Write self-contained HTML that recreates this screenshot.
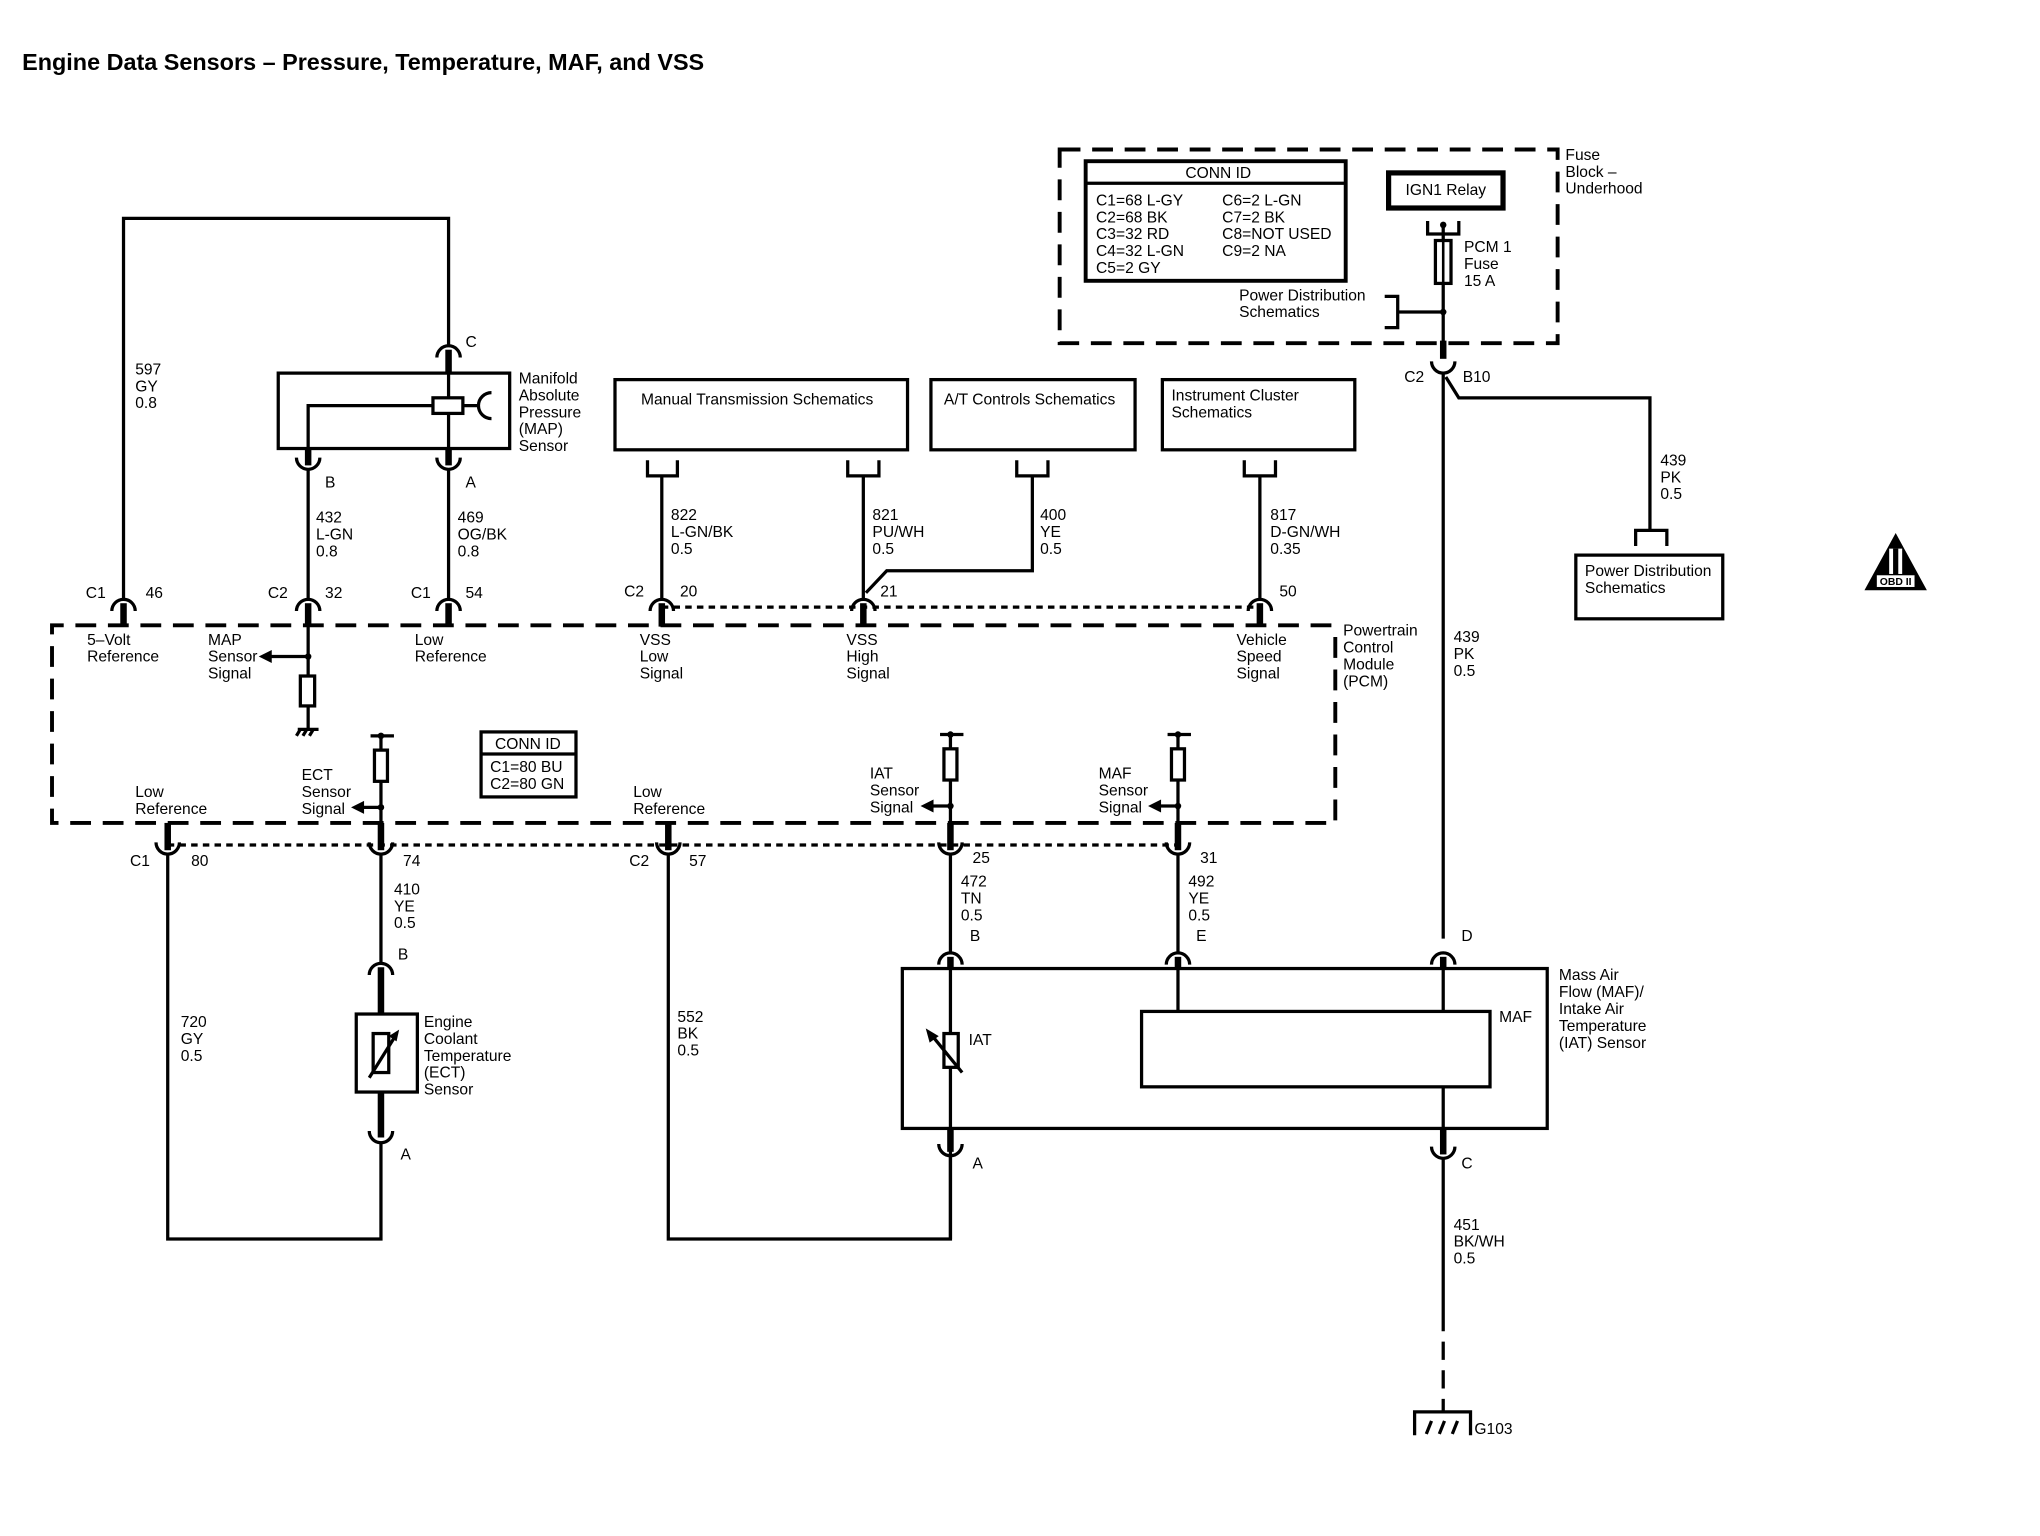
<!DOCTYPE html>
<html><head><meta charset="utf-8"><style>
html,body{margin:0;padding:0;background:#fff;}
svg{display:block}
text{font-family:"Liberation Sans",sans-serif;font-size:12px;fill:#000}
.t{font-size:18px;font-weight:bold}
.w{stroke:#000;stroke-width:2.5;fill:none}
.s{stroke:#000;stroke-width:5;fill:none}
.b{stroke:#000;stroke-width:2.5;fill:none}
.d{stroke:#000;stroke-width:3;fill:none;stroke-dasharray:16 9}
.dot{stroke:#000;stroke-width:2.5;fill:none;stroke-dasharray:5 4}
</style></head><body>
<svg width="2040" height="1536" viewBox="0 0 1569 1181.5" preserveAspectRatio="none" xmlns="http://www.w3.org/2000/svg">
<rect x="0" y="0" width="1569" height="1182" fill="#fff"/>
<text class="t" x="17" y="54">Engine Data Sensors – Pressure, Temperature, MAF, and VSS</text>

<!-- Fuse block -->
<rect x="815" y="115" width="383" height="149" class="d"/>
<text x="1204" y="123">Fuse</text><text x="1204" y="136">Block –</text><text x="1204" y="149">Underhood</text>
<rect x="835" y="124" width="200" height="92" fill="none" stroke="#000" stroke-width="3"/>
<line x1="835" y1="141" x2="1035" y2="141" stroke="#000" stroke-width="2.5"/>
<text x="937" y="137" text-anchor="middle">CONN ID</text>
<text x="843" y="158">C1=68 L-GY</text><text x="843" y="171">C2=68 BK</text><text x="843" y="184">C3=32 RD</text><text x="843" y="197">C4=32 L-GN</text><text x="843" y="210">C5=2 GY</text>
<text x="940" y="158">C6=2 L-GN</text><text x="940" y="171">C7=2 BK</text><text x="940" y="184">C8=NOT USED</text><text x="940" y="197">C9=2 NA</text>
<rect x="1068" y="133" width="88" height="27" fill="none" stroke="#000" stroke-width="4"/>
<text x="1112" y="150" text-anchor="middle">IGN1 Relay</text>
<path class="w" d="M1098 170 V180 H1122 V170"/>
<circle cx="1110" cy="173" r="2.5"/>
<line class="w" x1="1110" y1="173" x2="1110" y2="185"/>
<rect x="1104" y="185" width="12" height="33" fill="none" stroke="#000" stroke-width="2.5"/>
<line x1="1110" y1="185" x2="1110" y2="218" stroke="#000" stroke-width="2"/>
<text x="1126" y="194">PCM 1</text><text x="1126" y="207">Fuse</text><text x="1126" y="220">15 A</text>
<line class="w" x1="1110" y1="218" x2="1110" y2="270"/>
<circle cx="1110" cy="240" r="2.5"/>
<path class="w" d="M1110 240 H1075 M1065 228 H1075 V252 H1065"/>
<text x="953" y="231">Power Distribution</text><text x="953" y="244">Schematics</text>
<!-- C2 B10 -->
<line class="s" x1="1110" y1="262" x2="1110" y2="276"/>
<path class="b" d="M1101 278 A9 9 0 0 0 1119 278"/>
<text x="1080" y="294">C2</text><text x="1125" y="294">B10</text>
<line class="w" x1="1110" y1="287" x2="1110" y2="722"/>
<path class="w" d="M1112 290 L1122 306 H1269 V408"/>
<path class="b" d="M1258 420 V408 H1282 V420"/>
<text x="1277" y="358">439</text><text x="1277" y="371">PK</text><text x="1277" y="384">0.5</text>
<rect x="1212" y="427" width="113" height="49" fill="none" stroke="#000" stroke-width="2.5"/>
<text x="1219" y="443">Power Distribution</text><text x="1219" y="456">Schematics</text>
<text x="1118" y="494">439</text><text x="1118" y="507">PK</text><text x="1118" y="520">0.5</text>
<!-- OBD -->
<polygon points="1458,410 1434,454 1482,454" fill="#000"/>
<rect x="1453" y="422" width="10" height="20" fill="#fff"/>
<rect x="1456" y="422" width="4" height="20" fill="#000"/>
<rect x="1443" y="442" width="30" height="10" fill="#fff" stroke="#000"/>
<text x="1458" y="450" text-anchor="middle" style="font-size:8px;font-weight:bold">OBD II</text>

<!-- MAP sensor -->
<path class="w" d="M95 462 V168 H345 V266"/>
<text x="104" y="288">597</text><text x="104" y="301">GY</text><text x="104" y="314">0.8</text>
<path class="b" d="M336 275 A9 9 0 0 1 354 275"/>
<line class="s" x1="345" y1="269" x2="345" y2="287"/>
<text x="358" y="267">C</text>
<rect x="214" y="287" width="178" height="58" fill="none" stroke="#000" stroke-width="2.5"/>
<line class="w" x1="345" y1="287" x2="345" y2="345"/>
<path class="w" d="M237 345 V312 H333"/>
<rect x="333" y="306" width="23" height="12" fill="#fff" stroke="#000" stroke-width="2.5"/>
<line class="w" x1="356" y1="312" x2="369" y2="312"/>
<path class="b" d="M378 302 A10 10 0 0 0 378 322"/>
<text x="399" y="295">Manifold</text><text x="399" y="308">Absolute</text><text x="399" y="321">Pressure</text><text x="399" y="334">(MAP)</text><text x="399" y="347">Sensor</text>
<line class="s" x1="237" y1="345" x2="237" y2="358"/>
<line class="s" x1="345" y1="345" x2="345" y2="358"/>
<path class="b" d="M228 352 A9 9 0 0 0 246 352"/>
<path class="b" d="M336 352 A9 9 0 0 0 354 352"/>
<text x="250" y="375">B</text><text x="358" y="375">A</text>
<line class="w" x1="237" y1="361" x2="237" y2="462"/>
<line class="w" x1="345" y1="361" x2="345" y2="462"/>
<text x="243" y="402">432</text><text x="243" y="415">L-GN</text><text x="243" y="428">0.8</text>
<text x="352" y="402">469</text><text x="352" y="415">OG/BK</text><text x="352" y="428">0.8</text>

<!-- Schematic boxes -->
<rect x="473" y="292" width="225" height="54" fill="none" stroke="#000" stroke-width="2.5"/>
<text x="493" y="311">Manual Transmission Schematics</text>
<rect x="716" y="292" width="157" height="54" fill="none" stroke="#000" stroke-width="2.5"/>
<text x="726" y="311">A/T Controls Schematics</text>
<rect x="894" y="292" width="148" height="54" fill="none" stroke="#000" stroke-width="2.5"/>
<text x="901" y="308">Instrument Cluster</text><text x="901" y="321">Schematics</text>
<path class="w" d="M498 354 V366 H521 V354 M509 366 V462"/>
<path class="w" d="M652 354 V366 H676 V354 M664 366 V462"/>
<path class="w" d="M782 354 V366 H806 V354 M794 366 V439 H682 L666 456"/>
<path class="w" d="M957 354 V366 H981 V354 M969 366 V462"/>
<text x="516" y="400">822</text><text x="516" y="413">L-GN/BK</text><text x="516" y="426">0.5</text>
<text x="671" y="400">821</text><text x="671" y="413">PU/WH</text><text x="671" y="426">0.5</text>
<text x="800" y="400">400</text><text x="800" y="413">YE</text><text x="800" y="426">0.5</text>
<text x="977" y="400">817</text><text x="977" y="413">D-GN/WH</text><text x="977" y="426">0.35</text>

<!-- PCM top connectors -->
<line class="dot" x1="509" y1="467" x2="969" y2="467"/>
<g>
<path class="b" d="M86 470 A9 9 0 0 1 104 470"/><line class="s" x1="95" y1="464" x2="95" y2="482"/>
<path class="b" d="M228 470 A9 9 0 0 1 246 470"/><line class="s" x1="237" y1="464" x2="237" y2="482"/>
<path class="b" d="M336 470 A9 9 0 0 1 354 470"/><line class="s" x1="345" y1="464" x2="345" y2="482"/>
<path class="b" d="M500 470 A9 9 0 0 1 518 470"/><line class="s" x1="509" y1="464" x2="509" y2="482"/>
<path class="b" d="M655 470 A9 9 0 0 1 673 470"/><line class="s" x1="664" y1="464" x2="664" y2="482"/>
<path class="b" d="M960 470 A9 9 0 0 1 978 470"/><line class="s" x1="969" y1="464" x2="969" y2="482"/>
</g>
<text x="66" y="460">C1</text><text x="112" y="460">46</text>
<text x="206" y="460">C2</text><text x="250" y="460">32</text>
<text x="316" y="460">C1</text><text x="358" y="460">54</text>
<text x="480" y="459">C2</text><text x="523" y="459">20</text>
<text x="677" y="459">21</text><text x="984" y="459">50</text>

<!-- PCM box -->
<path class="d" d="M1027 490 V633 H40 V481 H1027"/>
<text x="1033" y="489">Powertrain</text><text x="1033" y="502">Control</text><text x="1033" y="515">Module</text><text x="1033" y="528">(PCM)</text>
<text x="67" y="496">5–Volt</text><text x="67" y="509">Reference</text>
<text x="160" y="496">MAP</text><text x="160" y="509">Sensor</text><text x="160" y="522">Signal</text>
<text x="319" y="496">Low</text><text x="319" y="509">Reference</text>
<text x="492" y="496">VSS</text><text x="492" y="509">Low</text><text x="492" y="522">Signal</text>
<text x="651" y="496">VSS</text><text x="651" y="509">High</text><text x="651" y="522">Signal</text>
<text x="951" y="496">Vehicle</text><text x="951" y="509">Speed</text><text x="951" y="522">Signal</text>
<!-- MAP internal -->
<line class="w" x1="237" y1="482" x2="237" y2="520"/>
<circle cx="237" cy="505" r="2.5"/>
<line class="w" x1="237" y1="505" x2="208" y2="505"/>
<polygon points="199,505 209,500 209,510"/>
<rect x="231" y="520" width="11" height="23" fill="#fff" stroke="#000" stroke-width="2.5"/>
<line class="w" x1="237" y1="543" x2="237" y2="560"/>
<path class="w" d="M229 561 H245 M231 561 L228 566 M236 561 L233 566 M241 561 L238 566" stroke-width="2"/>
<!-- CONN ID small -->
<rect x="370" y="563" width="73" height="50" fill="none" stroke="#000" stroke-width="2.5"/>
<line x1="370" y1="580" x2="443" y2="580" stroke="#000" stroke-width="2.5"/>
<text x="406" y="576" text-anchor="middle">CONN ID</text>
<text x="377" y="594">C1=80 BU</text><text x="377" y="607">C2=80 GN</text>
<!-- internal pull resistors -->
<g>
<path class="w" d="M285 566 H303 M293 566 V577 M293 601 V633"/><circle cx="293" cy="566" r="2.5"/>
<rect x="288" y="577" width="10" height="24" fill="#fff" stroke="#000" stroke-width="2.5"/>
<circle cx="293" cy="621" r="2.5"/><line class="w" x1="293" y1="621" x2="279" y2="621"/><polygon points="270,621 280,616 280,626"/>
<path class="w" d="M723 565 H741 M731 565 V576 M731 600 V633"/><circle cx="731" cy="565" r="2.5"/>
<rect x="726" y="576" width="10" height="24" fill="#fff" stroke="#000" stroke-width="2.5"/>
<circle cx="731" cy="620" r="2.5"/><line class="w" x1="731" y1="620" x2="717" y2="620"/><polygon points="708,620 718,615 718,625"/>
<path class="w" d="M898 565 H916 M906 565 V576 M906 600 V633"/><circle cx="906" cy="565" r="2.5"/>
<rect x="901" y="576" width="10" height="24" fill="#fff" stroke="#000" stroke-width="2.5"/>
<circle cx="906" cy="620" r="2.5"/><line class="w" x1="906" y1="620" x2="892" y2="620"/><polygon points="883,620 893,615 893,625"/>
</g>
<text x="104" y="613">Low</text><text x="104" y="626">Reference</text>
<text x="232" y="600">ECT</text><text x="232" y="613">Sensor</text><text x="232" y="626">Signal</text>
<text x="487" y="613">Low</text><text x="487" y="626">Reference</text>
<text x="669" y="599">IAT</text><text x="669" y="612">Sensor</text><text x="669" y="625">Signal</text>
<text x="845" y="599">MAF</text><text x="845" y="612">Sensor</text><text x="845" y="625">Signal</text>

<!-- PCM bottom connectors -->
<line class="dot" x1="129" y1="650" x2="906" y2="650"/>
<g>
<line class="s" x1="129" y1="633" x2="129" y2="654"/><path class="b" d="M120 648 A9 9 0 0 0 138 648"/>
<line class="s" x1="293" y1="633" x2="293" y2="654"/><path class="b" d="M284 648 A9 9 0 0 0 302 648"/>
<line class="s" x1="514" y1="633" x2="514" y2="654"/><path class="b" d="M505 648 A9 9 0 0 0 523 648"/>
<line class="s" x1="731" y1="633" x2="731" y2="654"/><path class="b" d="M722 648 A9 9 0 0 0 740 648"/>
<line class="s" x1="906" y1="633" x2="906" y2="654"/><path class="b" d="M897 648 A9 9 0 0 0 915 648"/>
</g>
<text x="100" y="666">C1</text><text x="147" y="666">80</text>
<text x="310" y="666">74</text>
<text x="484" y="666">C2</text><text x="530" y="666">57</text>
<text x="748" y="664">25</text><text x="923" y="664">31</text>

<!-- bottom wires -->
<path class="w" d="M129 657 V953 H293 V878"/>
<text x="139" y="790">720</text><text x="139" y="803">GY</text><text x="139" y="816">0.5</text>
<line class="w" x1="293" y1="657" x2="293" y2="742"/>
<text x="303" y="688">410</text><text x="303" y="701">YE</text><text x="303" y="714">0.5</text>
<path class="b" d="M284 750 A9 9 0 0 1 302 750"/><line class="s" x1="293" y1="744" x2="293" y2="780"/>
<text x="306" y="738">B</text>
<rect x="274" y="780" width="47" height="60" fill="none" stroke="#000" stroke-width="2.5"/>
<rect x="287" y="795" width="12" height="30" fill="none" stroke="#000" stroke-width="2.5"/>
<line class="w" x1="284" y1="829" x2="304" y2="797"/><polygon points="307,792 299,797 305,801"/>
<line class="s" x1="293" y1="840" x2="293" y2="875"/><path class="b" d="M284 870 A9 9 0 0 0 302 870"/>
<text x="308" y="892">A</text>
<text x="326" y="790">Engine</text><text x="326" y="803">Coolant</text><text x="326" y="816">Temperature</text><text x="326" y="829">(ECT)</text><text x="326" y="842">Sensor</text>

<path class="w" d="M514 657 V953 H731 V880"/>
<text x="521" y="786">552</text><text x="521" y="799">BK</text><text x="521" y="812">0.5</text>

<line class="w" x1="731" y1="657" x2="731" y2="733"/>
<text x="739" y="682">472</text><text x="739" y="695">TN</text><text x="739" y="708">0.5</text>
<path class="b" d="M722 742 A9 9 0 0 1 740 742"/><line class="s" x1="731" y1="736" x2="731" y2="745"/>
<text x="746" y="724">B</text>
<line class="w" x1="906" y1="657" x2="906" y2="733"/>
<text x="914" y="682">492</text><text x="914" y="695">YE</text><text x="914" y="708">0.5</text>
<path class="b" d="M897 742 A9 9 0 0 1 915 742"/><line class="s" x1="906" y1="736" x2="906" y2="745"/>
<text x="920" y="724">E</text>
<path class="b" d="M1101 742 A9 9 0 0 1 1119 742"/><line class="s" x1="1110" y1="736" x2="1110" y2="745"/>
<text x="1124" y="724">D</text>

<rect x="694" y="745" width="496" height="123" fill="none" stroke="#000" stroke-width="2.5"/>
<text x="1199" y="754">Mass Air</text><text x="1199" y="767">Flow (MAF)/</text><text x="1199" y="780">Intake Air</text><text x="1199" y="793">Temperature</text><text x="1199" y="806">(IAT) Sensor</text>
<line class="w" x1="731" y1="745" x2="731" y2="868"/>
<rect x="726" y="795" width="11" height="26" fill="#fff" stroke="#000" stroke-width="2.5"/>
<line class="w" x1="740" y1="825" x2="718" y2="798"/><polygon points="712,791 715,802 722,797"/>
<text x="745" y="804">IAT</text>
<line class="w" x1="906" y1="745" x2="906" y2="778"/>
<line class="w" x1="1110" y1="745" x2="1110" y2="778"/>
<rect x="878" y="778" width="268" height="58" fill="none" stroke="#000" stroke-width="2.5"/>
<text x="1153" y="786">MAF</text>
<line class="w" x1="1110" y1="836" x2="1110" y2="868"/>
<line class="s" x1="731" y1="868" x2="731" y2="886"/><path class="b" d="M722 880 A9 9 0 0 0 740 880"/>
<line class="w" x1="731" y1="888" x2="731" y2="953"/>
<text x="748" y="899">A</text>
<line class="s" x1="1110" y1="868" x2="1110" y2="888"/><path class="b" d="M1101 882 A9 9 0 0 0 1119 882"/>
<text x="1124" y="899">C</text>
<line class="w" x1="1110" y1="890" x2="1110" y2="1010"/>
<line x1="1110" y1="1010" x2="1110" y2="1085" stroke="#000" stroke-width="2.5" stroke-dasharray="14 8"/>
<text x="1118" y="946">451</text><text x="1118" y="959">BK/WH</text><text x="1118" y="972">0.5</text>
<path class="w" d="M1088 1104 V1086 H1131 V1104"/>
<path d="M1097 1103 L1101 1093 M1107 1103 L1111 1093 M1117 1103 L1121 1093" stroke="#000" stroke-width="2.5"/>
<text x="1134" y="1103">G103</text>
</svg>
</body></html>
